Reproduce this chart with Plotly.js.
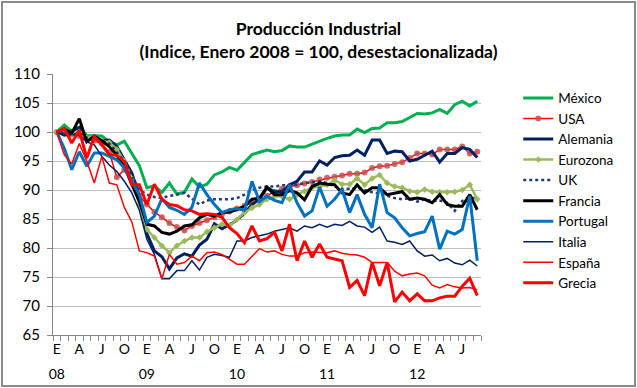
<!DOCTYPE html>
<html>
<head>
<meta charset="utf-8">
<script src="https://cdn.plot.ly/plotly-3.0.1.min.js"></script>
<style>
  html, body { margin: 0; padding: 0; background: #fff; }
  #wrap { position: relative; width: 637px; height: 388px; }
  #chart { position: absolute; left: 0; top: 0; width: 637px; height: 388px; }
  #frame { position: absolute; left: 1px; top: 1px; width: 635px; height: 386px; box-sizing: border-box; border: 2px solid #8a8a8a; pointer-events: none; }
</style>
</head>
<body>
<div id="wrap"><div id="chart"></div><div id="frame"></div></div>
<script>
// Months Jan 2008 - Sep 2012
const categories = [
  "2008-01","2008-02","2008-03","2008-04","2008-05","2008-06","2008-07","2008-08","2008-09","2008-10","2008-11","2008-12",
  "2009-01","2009-02","2009-03","2009-04","2009-05","2009-06","2009-07","2009-08","2009-09","2009-10","2009-11","2009-12",
  "2010-01","2010-02","2010-03","2010-04","2010-05","2010-06","2010-07","2010-08","2010-09","2010-10","2010-11","2010-12",
  "2011-01","2011-02","2011-03","2011-04","2011-05","2011-06","2011-07","2011-08","2011-09","2011-10","2011-11","2011-12",
  "2012-01","2012-02","2012-03","2012-04","2012-05","2012-06","2012-07","2012-08","2012-09"
];
const monthTickLabels = ["E","A","J","O","E","A","J","O","E","A","J","O","E","A","J","O","E","A","J"];
const yearTickLabels = ["08","09","10","11","12"];
const yearTickIndex = [0, 12, 24, 36, 48];

const mexico = [100,101.2,100.1,100.8,99.4,99.4,99.3,98.3,97.8,98.4,96.3,94.2,
  90.4,90.7,89.6,91.2,89.3,89.6,91.9,90.5,91,92.6,93.1,93.9,
  93.4,94.8,96.1,96.5,96.9,96.6,96.8,97.6,97.4,97.4,97.9,98.5,
  98.9,99.3,99.5,99.5,100.5,99.9,100.6,100.7,101.6,101.6,101.8,102.5,
  103.2,103.1,103.3,103.9,103.2,104.7,105.3,104.5,105.3];
const usa = [100,99.8,99.6,99.3,98.8,98.5,98,96.5,92.2,93.5,91.5,89,
  87.5,86.2,85.3,84.3,83.6,83,83.8,84.3,84.8,85.3,85.8,86.3,
  86.8,87.3,87.8,88.3,89,89.7,90.2,90.6,90.8,91.1,91.4,91.8,
  92.1,92.3,92.5,92.8,92.8,93,93.8,94.1,94.2,94.5,94.8,95.5,
  96.3,96.3,96.1,97,97,97,97.5,96.3,96.6];
const alemania = [100,99.6,100.2,100.8,98.7,99.2,98.5,98.6,97.5,95.2,92.9,89,
  82.5,79.5,78.5,76.4,78.3,79,78.6,80.5,81.5,84.2,83.3,84,
  84.8,86,87.5,88.4,90.4,89.7,89.7,90.9,91.5,93.1,93.1,95,
  94.3,95.6,95.9,96,96.9,96,98.6,98.6,96.3,96.7,96.6,95,
  95.3,96,96.7,94.8,96.3,96.3,97.3,97,95.6];
const eurozona = [100,100.3,99.8,100,99,99.2,98.5,98.2,97,95,92,87.5,
  83.2,81.8,80.4,79.2,80.4,81.2,81.8,81.8,82.8,83.5,84.1,83.9,
  84.9,86.1,86.9,87.5,88.4,88.9,88.9,88.4,89.2,89.8,90.4,90.6,
  90.9,91.7,91,91,92,90.9,92,92.6,91.2,90.6,90.4,89.8,
  89.6,90.1,89.7,89.6,89.6,89.7,90,90.9,88.4];
const uk = [100,99.8,99.5,99.8,99,98.8,98.6,98,96.5,95,92.5,90,
  89.2,88.8,88.6,89,89.2,89.5,88.5,87.5,88.2,88.4,88.4,88.4,
  88.6,89.2,90,90.4,90.6,90.6,90.8,90.9,90.9,91.2,91.4,91.5,
  91.2,90.6,90.2,90.2,90.4,90,89.6,89.4,89,88.6,88.4,88.6,
  88,88.4,88.1,88.2,87.8,86.4,88.1,88.8,88.4];
const francia = [100,100.5,99.8,102.3,98.3,99.3,98.5,97.5,96,94,91,88,
  84.1,83.8,82.7,82.4,82.9,83.8,84,85.2,85.8,85.5,86.1,86.2,
  86.6,87.2,88.4,88.6,90.5,89.2,89.2,89.9,89.5,88.3,90.6,91.2,
  91,90.9,89.5,89.2,90.9,89.5,90.4,90.4,89.2,89.5,89.7,88.4,
  88.6,88.4,87.8,89.2,87.5,87.2,87.2,89.2,86.6];
const portugal = [100,97.2,93.5,96.6,94.1,96.4,96.4,95.8,95.2,93.8,91.5,89.2,
  84.4,85.5,88.5,87,86.5,85.8,87,91.2,89.2,87.5,86.1,86.6,
  86.8,86.5,91.5,88,88.9,88.2,87.8,90.9,87.8,85.5,86.4,90.5,
  87.2,88.4,90.1,86.1,89.2,85.8,83.5,91,86.1,85.2,83.5,82.1,
  82.5,82.8,85.5,79.8,82.9,82.4,83.2,89,77.8];
const italia = [100,99.3,99.6,99.4,98.3,97.8,95.8,94.3,93.2,91.5,89.5,86.5,
  81.5,78.9,74.7,74.7,76.1,76.1,77.8,76.2,78.4,78.9,78.7,78.4,
  81.2,81.2,81.8,82.1,82.4,82.9,83.2,83.5,82.9,83.8,83.5,84.1,
  83.6,84.1,83.9,84.6,83.8,83.6,82.7,83.6,81.2,81,80.6,81.2,
  79.5,78.6,78.8,77.8,78.2,77.4,77.1,77.9,76.9];
const espana = [100,96.1,94.5,98,95,91.2,95.8,91.2,90.9,87,84.5,79.5,
  79.2,78.6,74.7,78.9,77.2,77.5,78.6,77.8,79.2,79.3,78.9,78.1,
  77.2,77.2,78.6,79.9,79.3,79.5,78.9,78.6,78.6,79.2,79.3,79.2,
  79.2,79.5,79.1,78.9,78.8,78.4,77.5,77.5,77.5,76,75.2,75.5,
  75.7,75.2,73.6,73.1,73.7,73.3,73.1,73.2,72.8];
const grecia = [100,100.6,98.1,100.3,95.5,99.2,97.8,96.1,96,94.9,90.9,90.9,
  87.5,91,88.4,87.5,87.3,86.6,86.4,85.8,85.9,85.8,85.3,83.5,
  82.5,80.9,83.8,81.2,81.6,82.7,79.5,84.1,77.8,81.2,78.4,80.7,
  78.4,78.1,77.8,73.2,74.4,71.8,77.5,73.5,77.5,70.7,72.4,70.9,
  72.1,70.9,70.9,71.4,71.7,71.7,73.4,74.8,71.8];

const FONT = "Lato, 'Open Sans', sans-serif";
function line(name, y, color, width, extra) {
  return Object.assign({
    type: 'scatter', mode: 'lines', name: name, x: categories, y: y,
    line: { color: color, width: width }
  }, extra || {});
}
const traces = [
  line('México', mexico, '#00B050', 3),
  line('USA', usa, '#FF0000', 1.5, { mode: 'lines+markers', marker: { color: 'rgba(200,80,77,0.85)', size: 6, symbol: 'circle' } }),
  line('Alemania', alemania, '#002060', 3),
  line('Eurozona', eurozona, '#9BBB59', 2.5, { mode: 'lines+markers', marker: { color: '#9BBB59', size: 5, symbol: 'diamond' } }),
  line('UK', uk, '#1F3A78', 2.5, { line: { color: '#1F3A78', width: 2.5, dash: 'dot' } }),
  line('Francia', francia, '#000000', 3),
  line('Portugal', portugal, '#0070C0', 3),
  line('Italia', italia, '#002060', 1.5),
  line('España', espana, '#FF0000', 1.5),
  // last series on the overlaid category axis that carries the year labels
  line('Grecia', grecia, '#FF0000', 3, { xaxis: 'x2' })
];

// Month letters every third category, blank elsewhere; ticks on category boundaries
const monthTickText = categories.map((c, i) => (i % 3 === 0 ? monthTickLabels[i / 3] : ''));
const yearTickVals = yearTickIndex.map(i => categories[i]);
const n = categories.length;

const layout = {
  width: 637, height: 388,
  margin: { l: 53, r: 156, t: 74, b: 53 },
  paper_bgcolor: '#ffffff', plot_bgcolor: '#ffffff',
  font: { family: FONT, color: '#000000', size: 14 },
  title: {
    text: '<b>Producción Industrial<br>(Indice, Enero 2008 = 100, desestacionalizada)</b>',
    font: { family: FONT, size: 17.5, color: '#000000' },
    x: 0.5, xref: 'container', xanchor: 'center', y: 0.91, yref: 'container', yanchor: 'top'
  },
  showlegend: true,
  legend: {
    x: 1.087, xanchor: 'left', y: 0.967, yanchor: 'top',
    font: { family: FONT, size: 13.5, color: '#000000' },
    bgcolor: 'rgba(0,0,0,0)', borderwidth: 0, tracegroupgap: 0
  },
  xaxis: {
    type: 'category', categoryorder: 'array', categoryarray: categories,
    range: [-0.5, n - 0.5],
    tickmode: 'array', tickvals: categories, ticktext: monthTickText, tickangle: 0,
    tickson: 'boundaries', ticks: 'outside', ticklen: 5, tickcolor: '#868686', tickwidth: 1,
    showgrid: false, zeroline: false,
    showline: true, linecolor: '#868686', linewidth: 1,
    tickfont: { family: FONT, size: 14, color: '#000000' },
    ticklabelstandoff: 1
  },
  xaxis2: {
    overlaying: 'x', anchor: 'y', side: 'bottom',
    type: 'category', categoryorder: 'array', categoryarray: categories,
    range: [-0.5, n - 0.5],
    tickmode: 'array', tickvals: yearTickVals, ticktext: yearTickLabels, tickangle: 0,
    ticks: '', showgrid: false, zeroline: false, showline: false,
    tickfont: { family: FONT, size: 14, color: '#000000' },
    ticklabelstandoff: 29
  },
  yaxis: {
    range: [65, 110], dtick: 5, tick0: 65,
    showgrid: true, gridcolor: '#BFBFBF', gridwidth: 1,
    showline: true, linecolor: '#868686', linewidth: 1,
    ticks: 'outside', ticklen: 5, tickcolor: '#868686',
    zeroline: false,
    tickfont: { family: FONT, size: 15, color: '#000000' },
    ticklabelstandoff: 4
  }
};

Plotly.newPlot('chart', traces, layout, { staticPlot: true, displayModeBar: false });
</script>
</body>
</html>
